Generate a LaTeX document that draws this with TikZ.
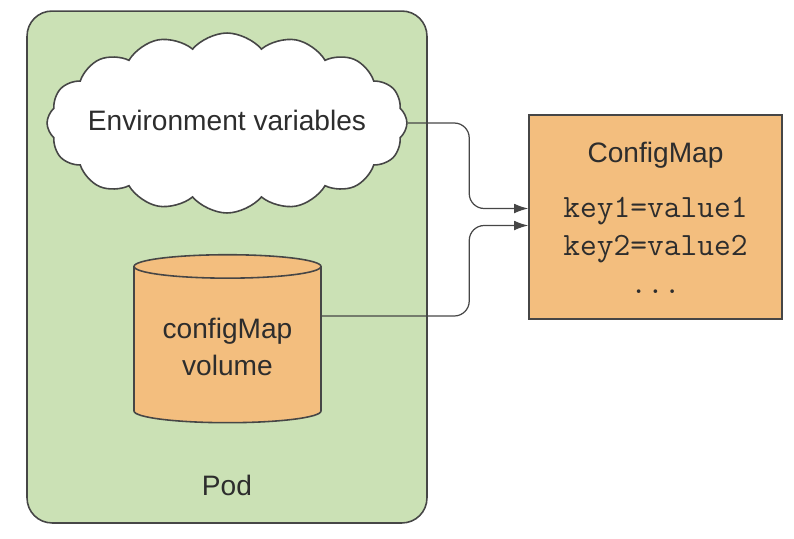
\documentclass[tikz,border=0pt]{standalone}
\usepackage{fontspec}
\setmainfont{Liberation Sans}
\usetikzlibrary{shapes.geometric,shapes.symbols,arrows.meta,calc}
\definecolor{podgreen}{RGB}{203,225,181}
\definecolor{maporange}{RGB}{243,190,126}
\definecolor{edge}{RGB}{70,70,70}
\definecolor{ink}{RGB}{45,45,45}
\tikzset{
  box/.style={draw=edge, line width=0.9pt},
  link/.style={draw=edge, line width=0.7pt, rounded corners=0.3cm, -{Latex[length=8pt,width=5.5pt]}},
  txt/.style={text=ink, font=\fontsize{16}{21}\selectfont},
  code/.style={text=ink, font=\fontsize{18.5}{21}\selectfont\ttfamily},
}
\begin{document}
\begin{tikzpicture}[x=0.02cm, y=-0.02cm]
    \useasboundingbox (0,0) rectangle (794,538);
    % pod
    \node [box, fill=podgreen, rounded corners=0.5cm, minimum width=8cm, minimum height=10.24cm] (pod) at (227,267) {};
    \node [txt, anchor=base] (podname) at (227,495) {Pod};
    % environment variables
    \node [box, fill=white, cloud, cloud puffs=16, cloud puff arc=100, aspect=2, minimum width=7.2cm, minimum height=3.6cm] (env) at (227,123) {};
    \node [txt, anchor=base] (envname) at (227,130) {Environment variables};
    % configMap volume
    \node [box, fill=maporange, cylinder, shape border rotate=90, aspect=2, minimum width=3.74cm, minimum height=3.36cm] (vol) at (227.5,347) {};
    \node [txt, anchor=base] (vol1) at (227.5,338) {configMap};
    \node [txt, anchor=base] (vol2) at (227.5,375) {volume};
    % config map
    \node [box, fill=maporange, minimum width=5.06cm, minimum height=4.08cm] (cfg) at (655.5,217) {};
    \node [txt, anchor=base] (cfgname) at (655.5,162) {ConfigMap};
    \node [code, anchor=base] (key1) at (655.5,217) {key1=value1};
    \node [code, anchor=base] (key2) at (655.5,255) {key2=value2};
    \node [code, anchor=base] (dots) at (655.5,293) {...};
    % links
    \coordinate (in1) at ($(cfg.west)+(0,-8.5)$);
    \coordinate (in2) at ($(cfg.west)+(0,8.5)$);
    \coordinate (out2) at ($(vol.east)+(0,-31)$);
    \draw [link] (env.east) -| ($(in1)+(-59,0)$) -- (in1);
    \draw [link] (out2) -| ($(in2)+(-59,0)$) -- (in2);
\end{tikzpicture}
\end{document}
